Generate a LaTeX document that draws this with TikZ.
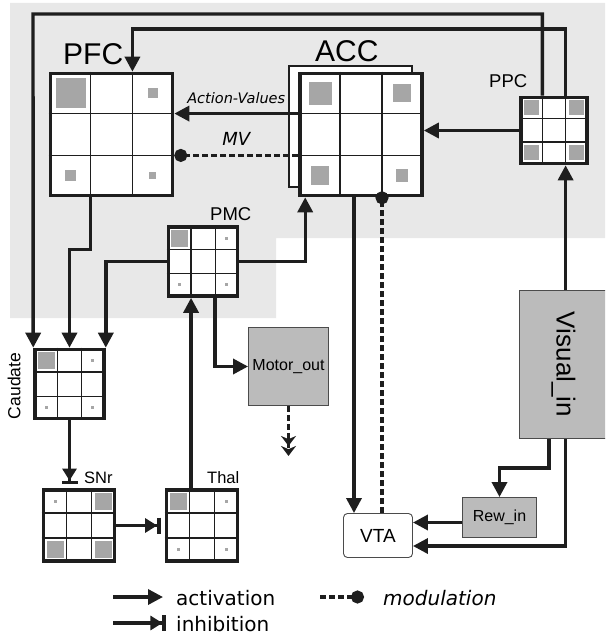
\documentclass[tikz,border=0pt]{standalone}
\usepackage{fontspec}
\setmainfont{Liberation Sans}
\newfontfamily\legfont{DejaVu Sans}
\usepackage{graphicx}
\usetikzlibrary{arrows.meta,calc,positioning}
\definecolor{bggray}{RGB}{232,232,232}
\definecolor{boxgray}{RGB}{187,187,187}
\definecolor{unitgray}{RGB}{166,166,166}
\definecolor{linec}{RGB}{30,30,30}
\newcommand{\fsz}[1]{\fontsize{#1}{#1}\selectfont}
\tikzset{
  area/.style={rectangle,draw=linec,line width=3.6pt,fill=white,
               minimum size=#1,inner sep=0pt},
  gridln/.style={draw=linec,line width=1.2pt},
  unit/.style={rectangle,fill=unitgray,minimum size=#1,inner sep=0pt},
  iobox/.style={rectangle,draw=linec!80,line width=0.9pt,fill=boxgray,
                inner sep=0pt,font=\fsz{16}},
  lbl/.style={inner sep=0pt,anchor=base west,font=\fsz{#1}},
  act/.style={draw=linec,line width=3.4pt,
              -{Triangle[length=15pt,width=15pt]}},
  inh/.style={draw=linec,line width=3.4pt,
              -{Triangle[length=12pt,width=14pt,sep=0pt]Bar[width=16pt,line width=3.6pt]}},
  mod/.style={draw=linec,line width=3.4pt,dash pattern=on 6pt off 3pt,
              -{Circle[length=13pt]}},
  motarr/.style={draw=linec,line width=3.4pt,dash pattern=on 6pt off 3pt,
                 -{Stealth[length=10pt,width=15pt,sep=0pt]Stealth[length=10pt,width=15pt]}},
}
% grid lines and active units of one 3x3 area
\newcommand{\units}[3]{%
  \foreach \f in {1,2}{
    \draw[gridln] ($(#1.north west)!\f/3!(#1.north east)$)
               -- ($(#1.south west)!\f/3!(#1.south east)$);
    \draw[gridln] ($(#1.north west)!\f/3!(#1.south west)$)
               -- ($(#1.north east)!\f/3!(#1.south east)$);
  }
  \foreach \c/\r/\s [count=\k] in {#3}
    \node[unit=\s] (#1-u\k) at ($(#1.center)+(\c*#2,\r*#2)$) {};
}

\begin{document}
\begin{tikzpicture}[x=1pt,y=-1pt]
  \clip (0,0) rectangle (605,639);
  \fill[white] (0,0) rectangle (605,639);
  % cortex background
  \fill[bggray] (10,3) -- (605,3) -- (605,238) -- (276,238)
                -- (276,318) -- (10,318) -- cycle;

  % areas
  \node[area=122] (pfc) at (111.5,134.5) {};
  \node[area,line width=2.2pt,minimum width=123,minimum height=121]
       (accback) at (350.5,126.5) {};
  \node[area=122] (acc) at (361,134.5) {};
  \node[area=66] (ppc) at (554,130.5) {};
  \node[area=69] (pmc) at (203,261.5) {};
  \node[area=69] (caud) at (69.5,384) {};
  \node[area=71] (snr) at (79,525.5) {};
  \node[area=71] (thal) at (202,525.5) {};

  \units{pfc}{41}{-1/-1/30, 1/-1/10, -1/1/11, 1/1/7}
  \units{acc}{41}{-1/-1/23, 1/-1/18, -1/1/18, 1/1/12}
  \units{ppc}{22.5}{-1/-1/15, 1/-1/15, -1/1/15, 1/1/15}
  \units{pmc}{23.3}{-1/-1/17, 1/-1/3, -1/1/3, 1/1/3}
  \units{caud}{23.3}{-1/-1/17, 1/-1/3, -1/1/3, 1/1/3}
  \units{snr}{24}{-1/-1/3, 1/-1/17, -1/1/17, 1/1/17}
  \units{thal}{24}{-1/-1/17, 1/-1/3, -1/1/3, 1/1/3}

  % in/out boxes
  \node[iobox,minimum width=80,minimum height=78] (motor) at (288.5,366.5) {Motor\_out};
  \node[iobox,minimum width=74,minimum height=40] (rew) at (499.5,517.5) {Rew\_in};
  \node[iobox,minimum width=89,minimum height=148,font=\fsz{26}]
       (vis) at (563.5,364.5) {\rotatebox{-90}{Visual\_in}};
  \node[rectangle,rounded corners=4pt,draw=linec!80,line width=0.9pt,fill=white,
        minimum width=69,minimum height=44,font=\fsz{19}] (vta) at (378,535.5) {VTA};

  % area labels
  \node[lbl=30] (pfc-lbl) at (63,65) {PFC};
  \node[lbl=30] (acc-lbl) at (315,62) {ACC};
  \node[lbl=18.5] (ppc-lbl) at (489,88) {PPC};
  \node[lbl=18.5] (pmc-lbl) at (210,220) {PMC};
  \node[lbl=16.5] (snr-lbl) at (84,483) {SNr};
  \node[lbl=16.5] (thal-lbl) at (207,483) {Thal};
  \node[inner sep=0pt,rotate=90,font=\fsz{17.5}] (caud-lbl) at (14,386) {Caudate};

  % anchor points
  \coordinate (ppc-t1) at ($(ppc.north west)!1/3!(ppc.north east)$);
  \coordinate (ppc-t2) at ($(ppc.north west)!2/3!(ppc.north east)$);
  \coordinate (ppc-b2) at ($(ppc.south west)!2/3!(ppc.south east)$);
  \coordinate (pfc-t2) at ($(pfc.north west)!2/3!(pfc.north east)$);
  \coordinate (pfc-b1) at ($(pfc.south west)!1/3!(pfc.south east)$);
  \coordinate (pfc-r1) at ($(pfc.north east)!1/3!(pfc.south east)$);
  \coordinate (pfc-r2) at ($(pfc.north east)!2/3!(pfc.south east)$);
  \coordinate (pmc-b2) at ($(pmc.south west)!2/3!(pmc.south east)$);
  \coordinate (thal-t1) at ($(thal.north west)!1/3!(thal.north east)+(1.5,0)$);
  \coordinate (acc-in) at ($(acc.south west)+(7,0)$);
  \coordinate (acc-out) at ($(acc.south)+(-7,0)$);
  \coordinate (acc-mod) at ($(acc.south)+(21,0)$);
  \coordinate (vis-b1) at ($(vis.south)+(-14.5,0)$);
  \coordinate (rew-out) at ($(rew.west)+(0,5)$);
  \coordinate (vta-in) at ($(vta.east)+(0,10.5)$);
  \coordinate (loopA) at (33,14);
  \coordinate (loopB) at (0,29);
  \coordinate (motor-end) at ($(motor.south)+(0,50)$);

  % connections
  \draw[act] (ppc-t1) |- (loopA) -- (caud.north west);
  \draw[act] (ppc-t2) |- (pfc-t2 |- loopB) -- (pfc-t2);
  \draw[act] (ppc.west) -- (ppc.west -| acc.east);
  \draw[act] (acc.west |- pfc-r1) -- (pfc-r1)
        node[midway,above=5pt,font=\legfont\itshape\fsz{14.5}] (av-lbl) {Action-Values};
  \draw[mod] (acc.west |- pfc-r2) -- (pfc-r2)
        node[midway,above=5pt,font=\legfont\itshape\fsz{18}] (mv-lbl) {MV};
  \draw[act] (pmc.east) -| (acc-in);
  \draw[act] (pfc-b1) -- ++(0,52) -| (caud.north);
  \draw[act] (pmc.west) -| (caud.north east);
  \draw[act] (thal-t1) -- (thal-t1 |- pmc.south);
  \draw[act] (pmc-b2) |- (motor.west);
  \draw[motarr] (motor.south) -- (motor-end);
  \draw[inh,shorten >=4pt] (caud.south) -- (caud.south |- snr.north);
  \draw[inh,shorten >=4pt] (snr.east) -- (thal.west);
  \draw[act] (acc-out) -- (acc-out |- vta.north);
  \draw[mod,shorten >=-6pt] (acc-mod |- vta.north) -- (acc-mod);
  \draw[act] (rew-out) -- (rew-out -| vta.east);
  \draw[act] (ppc-b2 |- vis.north) -- (ppc-b2);
  \draw[act] (vis-b1) -- ++(0,29) -| (rew.north);
  \draw[act] (ppc-b2 |- vis.south) |- (vta-in);

  % legend
  \node[lbl=20,font=\legfont\fsz{20}] (lg-act) at (176,605) {activation};
  \node[lbl=20,font=\legfont\fsz{20}] (lg-inh) at (176,631) {inhibition};
  \node[lbl=20,font=\legfont\itshape\fsz{20}] (lg-mod) at (383,605) {modulation};
  \coordinate (lg-a) at (113,597);
  \coordinate (lg-i) at (113,623);
  \coordinate (lg-m) at (320,597);
  \draw[act] (lg-a) -- ++(50,0);
  \draw[inh] (lg-i) -- ++(53,0);
  \draw[mod] (lg-m) -- ++(44,0);
\end{tikzpicture}
\end{document}
